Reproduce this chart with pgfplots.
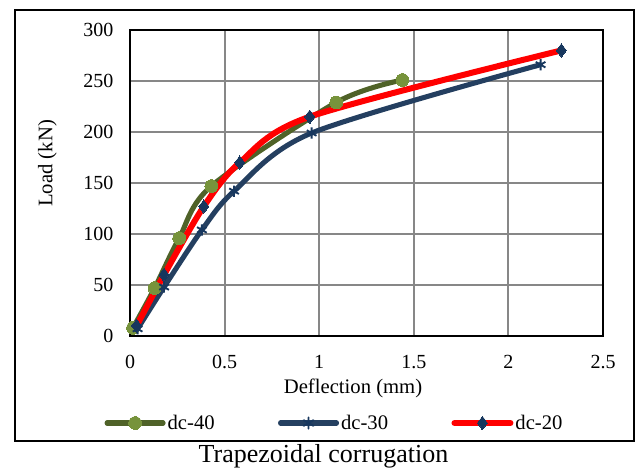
\documentclass[border=0pt]{standalone}
\usepackage{pgfplots}
\pgfplotsset{compat=1.18}
\usepackage{fontspec}
\setmainfont{Liberation Serif}

\definecolor{dcgreen}{HTML}{4F6228}
\definecolor{dcgreenmark}{HTML}{77933C}
\definecolor{dcnavy}{HTML}{243F60}
\definecolor{dcnavymark}{HTML}{17375E}
\definecolor{gridgray}{HTML}{878787}

\begin{document}
\begin{tikzpicture}
\useasboundingbox (-97.5pt,-99.75pt) rectangle (383.25pt,252pt);
\begin{axis}[
  scale only axis,
  width=354.75pt, height=229.5pt,
  xmin=0, xmax=2.5, ymin=0, ymax=300,
  xtick={0,0.5,...,2.5},
  ytick={0,50,...,300},
  xticklabels={0,0.5,1,1.5,2,2.5},
  major tick length=0pt,
  grid=major,
  major grid style={gridgray, line width=1.4pt},
  axis line style={black, line width=1.6pt},
  /pgf/number format/assume math mode=true,
  tick label style={font=\fontsize{15}{18}\selectfont},
  xticklabel style={yshift=-11pt},
  yticklabel style={xshift=-9pt},
  xlabel={Deflection (mm)},
  ylabel={Load (kN)},
  every axis x label/.style={at={(axis description cs:0.4715,-0.17)}, anchor=center,
    font=\fontsize{15.5}{18}\selectfont},
  every axis y label/.style={at={(axis description cs:-0.1748,0.564)}, anchor=center, rotate=90,
    font=\fontsize{15.5}{18}\selectfont},
  legend style={
    at={(axis description cs:0.4324,-0.2843)}, anchor=center,
    draw=none, fill=none, legend columns=3,
    font=\fontsize{15.5}{18}\selectfont,
    /tikz/every even column/.append style={column sep=46pt},
    nodes={inner xsep=1.5pt, inner ysep=1pt},
  },
  legend cell align=left,
  legend image code/.code={
    \draw[mark repeat=2, mark phase=2, line cap=round, #1]
      plot coordinates {(0pt,0pt) (21pt,0pt) (42pt,0pt)};
  },
]
% dc-40
\addplot[smooth, tension=0.5, dcgreen, line width=3.8pt,
  mark=*, mark size=4.8pt, mark options={fill=dcgreenmark, draw=dcgreenmark, line width=0pt}]
  coordinates {(0.016,8) (0.13,47) (0.26,96) (0.43,147) (1.09,229) (1.44,251)};
\addlegendentry{dc-40}
% dc-30
\addplot[smooth, tension=0.5, dcnavy, line width=3.8pt,
  mark=asterisk, mark size=4.2pt, mark options={draw=dcnavymark, line width=1.4pt}]
  coordinates {(0.04,7) (0.18,48) (0.38,104) (0.55,142) (0.96,199) (2.17,266)};
\addlegendentry{dc-30}
% dc-20
\addplot[smooth, tension=0.5, red, line width=4.5pt,
  mark=diamond*, mark size=5pt, mark options={fill=dcnavymark, draw=dcnavymark, line width=0pt}]
  coordinates {(0.035,10) (0.18,60) (0.39,127) (0.58,170) (0.95,215) (2.28,280)};
\addlegendentry{dc-20}
\end{axis}
\draw[black, line width=1.6pt] (-86.25pt,-78.75pt) rectangle (378pt,244.5pt);
\node[anchor=base, font=\fontsize{19.5}{23}\selectfont] at (145.1pt,-95pt) {Trapezoidal corrugation};
\end{tikzpicture}
\end{document}
